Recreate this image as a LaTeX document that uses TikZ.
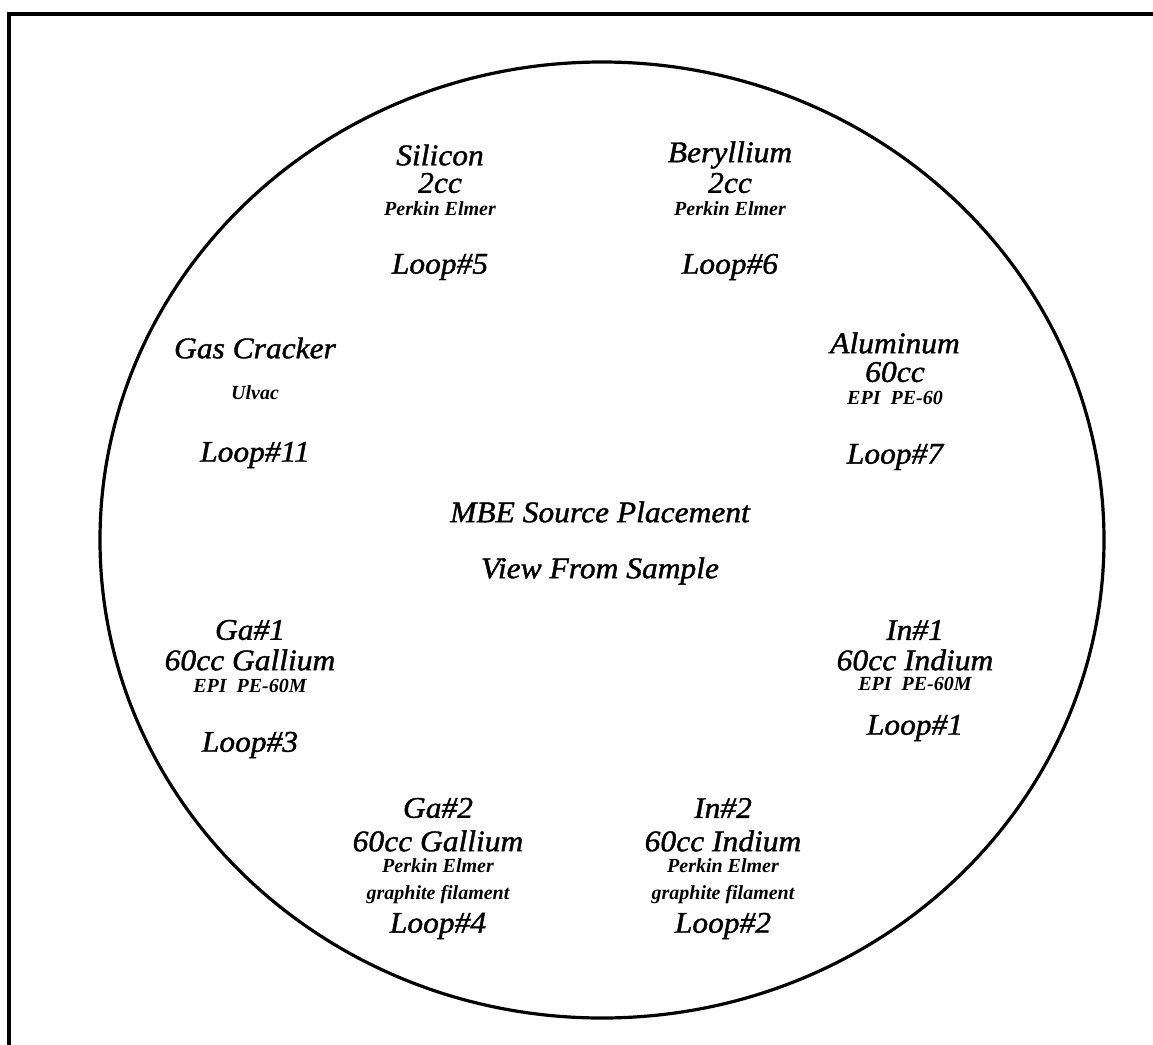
\documentclass[tikz,border=0pt]{standalone}
\usepackage{fontspec}
\setmainfont{Liberation Serif}
\newfontface\srcface[FakeBold=1.3,FakeStretch=1.05]{Liberation Serif Italic}

\tikzstyle{frame}=[line width=2pt]
\tikzstyle{chamber}=[line width=1.6pt]
\tikzstyle{src}=[inner sep=0pt,font=\fontsize{15}{17}\srcface]
\tikzstyle{maker}=[inner sep=0pt,font=\fontsize{10}{12}\selectfont\bfseries\itshape]

\begin{document}
\begin{tikzpicture}[x=0.5pt,y=-0.5pt]
\useasboundingbox (0,0) rectangle (1153,1045);
% Frame and chamber

   \draw[frame] (9,1070) coordinate(fbl) -- (9,14) coordinate(ftl) -- (1180,14) coordinate(ftr);
   \draw[chamber] (602,540) coordinate(ctr) ellipse (502 and 478);

% Top sources
   \node[src] (si) at (440,155) {Silicon};
   \node[src] (si2) at (440,183) {2cc};
   \node[maker] (sim) at (440,209) {Perkin Elmer};
   \node[src] (l5) at (440,267) {Loop\#5};

   \node[src] (be) at (730,155) {Beryllium};
   \node[src] (be2) at (730,183) {2cc};
   \node[maker] (bem) at (730,209) {Perkin Elmer};
   \node[src] (l6) at (730,267) {Loop\#6};

% Side sources
   \node[src] (gc) at (255,348) {Gas Cracker};
   \node[maker] (gcm) at (255,393) {Ulvac};
   \node[src] (l11) at (255,455) {Loop\#11};

   \node[src] (al) at (895,343) {Aluminum};
   \node[src] (al2) at (895,372) {60cc};
   \node[maker] (alm) at (895,398) {EPI\ \ PE-60};
   \node[src] (l7) at (895,457) {Loop\#7};

   \node[src] (ga1) at (250,630) {Ga\#1};
   \node[src] (ga1b) at (250,660) {60cc Gallium};
   \node[maker] (ga1m) at (250,686) {EPI\ \ PE-60M};
   \node[src] (l3) at (250,745) {Loop\#3};

   \node[src] (in1) at (915,630) {In\#1};
   \node[src] (in1b) at (915,660) {60cc Indium};
   \node[maker] (in1m) at (915,684) {EPI\ \ PE-60M};
   \node[src] (l1) at (915,728) {Loop\#1};

% Bottom sources
   \node[src] (ga2) at (438,808) {Ga\#2};
   \node[src] (ga2b) at (438,841) {60cc Gallium};
   \node[maker] (ga2m) at (438,866) {Perkin Elmer};
   \node[maker] (ga2f) at (438,895) {graphite filament};
   \node[src] (l4) at (438,926) {Loop\#4};

   \node[src] (in2) at (723,808) {In\#2};
   \node[src] (in2b) at (723,841) {60cc Indium};
   \node[maker] (in2m) at (723,866) {Perkin Elmer};
   \node[maker] (in2f) at (723,895) {graphite filament};
   \node[src] (l2) at (723,926) {Loop\#2};

% Title
   \node[src] (ttl) at (600,512) {MBE Source Placement};
   \node[src] (sub) at (600,571) {View From Sample};

\end{tikzpicture}
\end{document}
